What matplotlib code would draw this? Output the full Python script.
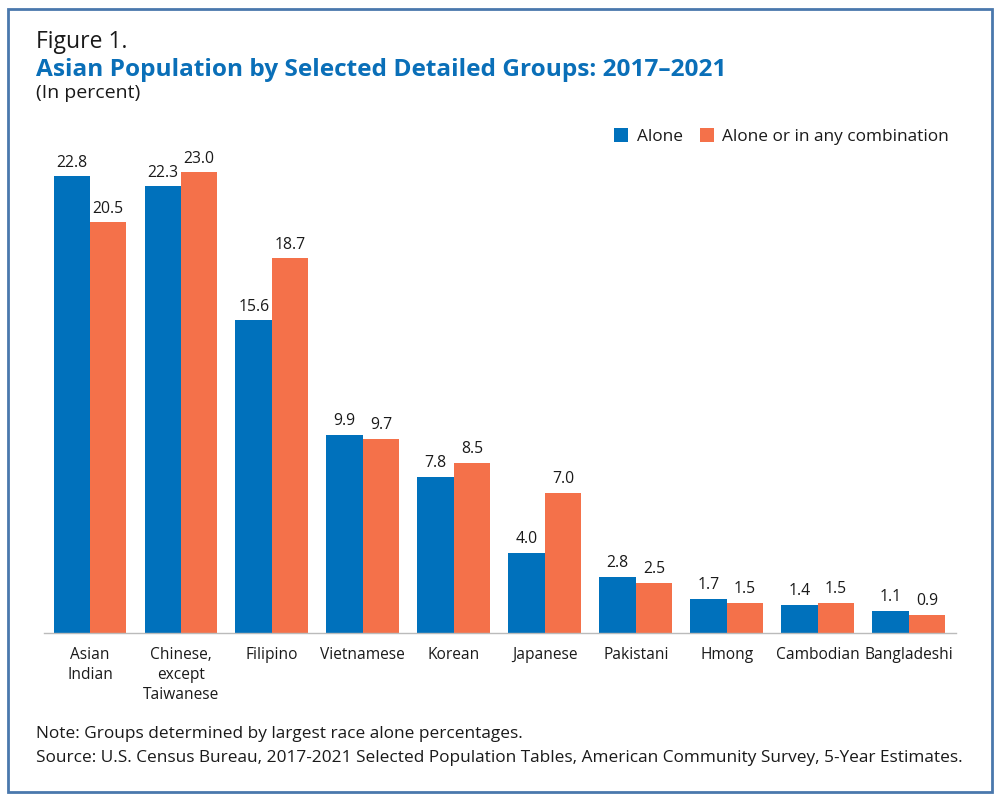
import matplotlib.pyplot as plt
from matplotlib.patches import Rectangle
import numpy as np

plt.rcParams['font.family'] = ['Open Sans', 'DejaVu Sans']

groups = ["Asian\nIndian", "Chinese,\nexcept\nTaiwanese", "Filipino", "Vietnamese",
          "Korean", "Japanese", "Pakistani", "Hmong", "Cambodian", "Bangladeshi"]
alone = [22.8, 22.3, 15.6, 9.9, 7.8, 4.0, 2.8, 1.7, 1.4, 1.1]
combo = [20.5, 23.0, 18.7, 9.7, 8.5, 7.0, 2.5, 1.5, 1.5, 0.9]
series_names = ["Alone", "Alone or in any combination"]

blue = "#0071bc"
orange = "#f4714a"
text_col = "#1a1a1a"

fig = plt.figure(figsize=(10, 8.01), dpi=100)

# outer frame
fig.patches.append(Rectangle((0.008, 0.011), 0.984, 0.978, transform=fig.transFigure,
                             fill=False, edgecolor="#4a78ad", lw=2))

ax = fig.add_axes([0.044, 0.2097, 0.912, 0.6255])
x = np.arange(len(groups))
w = 0.4
b1 = ax.bar(x - w / 2, alone, w, color=blue, label=series_names[0])
b2 = ax.bar(x + w / 2, combo, w, color=orange, label=series_names[1])
ax.bar_label(b1, fmt="%.1f", padding=4, fontsize=11.3, color=text_col)
ax.bar_label(b2, fmt="%.1f", padding=4, fontsize=11.3, color=text_col)

ax.set_xlim(-0.505, 9.52)
ax.set_ylim(0, 25)
ax.set_xticks(x)
ax.set_xticklabels(groups, fontsize=11.2, color=text_col, linespacing=1.33)
ax.tick_params(axis="x", length=0, pad=10)
ax.set_yticks([])
for s in ["top", "right", "left"]:
    ax.spines[s].set_visible(False)
ax.spines["bottom"].set_color("#bbbbbb")
ax.spines["bottom"].set_linewidth(1)

ax.legend(loc="upper right", bbox_to_anchor=(1.0, 1.021), ncol=2, frameon=False,
          fontsize=12.4, handlelength=0.8, handleheight=0.8, handletextpad=0.5,
          columnspacing=1.0, borderaxespad=0, labelcolor=text_col)

fig.text(0.036, 0.947, "Figure 1.", fontsize=16.5, color=text_col, va="center")
fig.text(0.036, 0.913, "Asian Population by Selected Detailed Groups: 2017\u20132021",
         fontsize=17.6, color="#0a6fb8", fontweight="bold", va="center")
fig.text(0.036, 0.884, "(In percent)", fontsize=14, color=text_col, va="center")

fig.text(0.036, 0.084, "Note: Groups determined by largest race alone percentages.",
         fontsize=12.4, color=text_col, va="center")
fig.text(0.036, 0.054, "Source: U.S. Census Bureau, 2017-2021 Selected Population Tables, "
         "American Community Survey, 5-Year Estimates.",
         fontsize=12.4, color=text_col, va="center")

fig.savefig("out.png", dpi=100)
